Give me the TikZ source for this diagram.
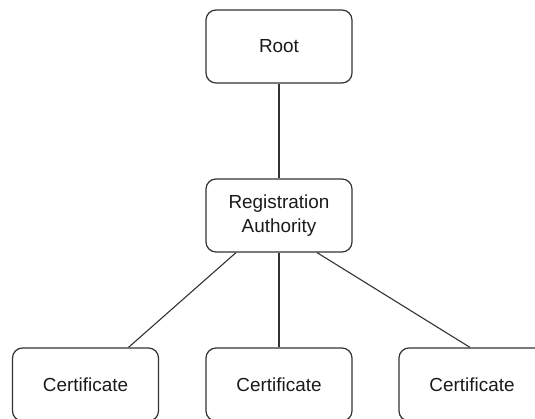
\documentclass[tikz,border=0pt]{standalone}
\usepackage{fontspec}
\setmainfont{Liberation Sans}
\usetikzlibrary{positioning}
\definecolor{PKIline}{HTML}{333333}
\definecolor{PKItext}{HTML}{1a1a1a}

\begin{document}
\begin{tikzpicture}[x=1pt,y=-1pt,
    pkibox/.style={draw=PKIline,line width=1.2pt,rounded corners=10pt,minimum width=146pt,minimum height=73pt,inner sep=0pt,align=center,text=PKItext,font=\fontsize{18.9}{23.5}\selectfont},
    pkilink/.style={draw=PKIline,line width=1.1pt}]
  \useasboundingbox (0,0) rectangle (535,419);
  \clip (0,0) rectangle (535,419);
  % hierarchy
  \node[pkibox] (root) at (279,46.5) {Root};
  \node[pkibox] (ra) at (279,215.5) {Registration\\Authority};
  \node[pkibox] (certleft) at (85.5,384.5) {Certificate};
  \node[pkibox] (certmid) at (279,384.5) {Certificate};
  \node[pkibox] (certright) at (472,384.5) {Certificate};
  % links
  \draw[pkilink] (root.south) -- (ra.north);
  \draw[pkilink] ([xshift=-43pt]ra.south) -- ([xshift=43pt]certleft.north);
  \draw[pkilink] (ra.south) -- (certmid.north);
  \draw[pkilink] ([xshift=38pt]ra.south) -- ([xshift=-2pt]certright.north);
\end{tikzpicture}
\end{document}
